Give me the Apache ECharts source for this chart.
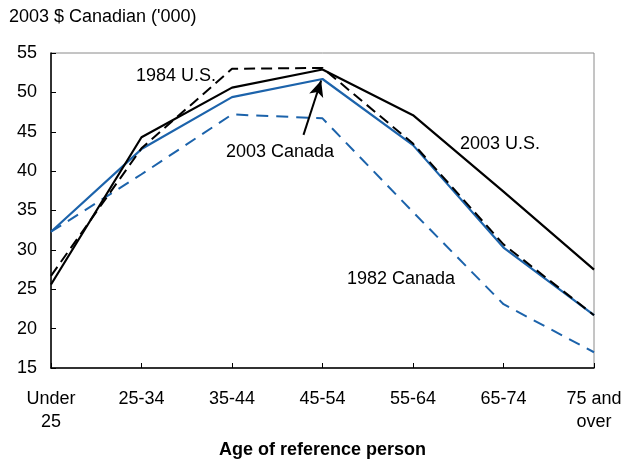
<!DOCTYPE html>
<html><head><meta charset="utf-8">
<script src="https://cdn.jsdelivr.net/npm/echarts@6/dist/echarts.min.js"></script>
<style>html,body{margin:0;padding:0;background:#fff}#c{width:622px;height:459px}</style>
</head><body><div id="c"></div>
<script>
const categories = ['Under\n25', '25-34', '35-44', '45-54', '55-64', '65-74', '75 and\nover'];
const us2003 = [25.6, 44.3, 50.6, 52.9, 47.1, 37.4, 27.5];
const us1984 = [26.7, 42.9, 53.0, 53.1, 43.5, 30.7, 21.7];
const canada2003 = [32.3, 42.8, 49.4, 51.7, 43.3, 30.3, 21.7];
const canada1982 = [32.3, 39.6, 47.2, 46.7, 34.8, 23.1, 17.0];
const yTicks = {min: 15, max: 55, interval: 5};

const BLUE = '#1c63ab';
const FONT = '"Liberation Sans", Arial, sans-serif';
const FS = 18;
const chart = echarts.init(document.getElementById('c'), null, {renderer: 'canvas'});
chart.setOption({
  animation: false,
  backgroundColor: '#fff',
  textStyle: {fontFamily: FONT},
  grid: {left: 51, right: 28, top: 53, bottom: 91, show: true, borderColor: '#8a8a8a', borderWidth: 1,
         containLabel: false, outerBoundsMode: 'none'},
  xAxis: [{
    type: 'category', data: categories, boundaryGap: false,
    name: 'Age of reference person', nameLocation: 'middle', nameGap: 73,
    nameTextStyle: {fontFamily: FONT, fontSize: FS, fontWeight: 'bold', color: '#000'},
    axisLine: {lineStyle: {color: '#000', width: 1.5}},
    axisTick: {inside: true, length: 5, lineStyle: {color: '#000'}},
    axisLabel: {color: '#000', fontSize: FS, fontFamily: FONT, margin: 20, lineHeight: 23, interval: 0, hideOverlap: false},
    splitLine: {show: false}
  }, {
    type: 'value', min: 0, max: categories.length - 1, show: false
  }],
  yAxis: {
    type: 'value', min: yTicks.min, max: yTicks.max, interval: yTicks.interval,
    axisLine: {show: true, lineStyle: {color: '#000', width: 1.5}},
    axisTick: {show: true, inside: true, length: 5, lineStyle: {color: '#000'}},
    axisLabel: {color: '#000', fontSize: FS, fontFamily: FONT, margin: 14},
    splitLine: {show: false}
  },
  series: [
    {name: '1982 Canada', type: 'line', data: canada1982, symbol: 'none',
     lineStyle: {color: BLUE, width: 2, type: [12, 8]}},
    {name: '2003 Canada', type: 'line', data: canada2003, symbol: 'none',
     lineStyle: {color: BLUE, width: 2.2}},
    {name: '2003 U.S.', type: 'line', data: us2003, symbol: 'none',
     lineStyle: {color: '#000', width: 2.2}},
    {name: '1984 U.S.', type: 'line', data: us1984, symbol: 'none',
     lineStyle: {color: '#000', width: 2, type: [11, 6]}},
    {name: 'arrow', type: 'line', xAxisIndex: 1, data: [], symbol: 'none',
     markLine: {silent: true, symbol: ['none', 'arrow'], symbolSize: [11, 16], label: {show: false},
       lineStyle: {color: '#000', width: 2, type: 'solid'},
       data: [[{coord: [2.79, 44.6]}, {coord: [2.985, 51.5]}]]}}
  ],
  graphic: [
    {type: 'text', left: 9, top: 8, style: {text: "2003 $ Canadian ('000)", font: FS + 'px ' + FONT, fill: '#000'}},
    {type: 'text', left: 136, top: 67, style: {text: '1984 U.S.', font: FS + 'px ' + FONT, fill: '#000'}},
    {type: 'text', left: 226, top: 143, style: {text: '2003 Canada', font: FS + 'px ' + FONT, fill: '#000'}},
    {type: 'text', left: 460, top: 135, style: {text: '2003 U.S.', font: FS + 'px ' + FONT, fill: '#000'}},
    {type: 'text', left: 347, top: 270, style: {text: '1982 Canada', font: FS + 'px ' + FONT, fill: '#000'}}
  ]
});
</script></body></html>
